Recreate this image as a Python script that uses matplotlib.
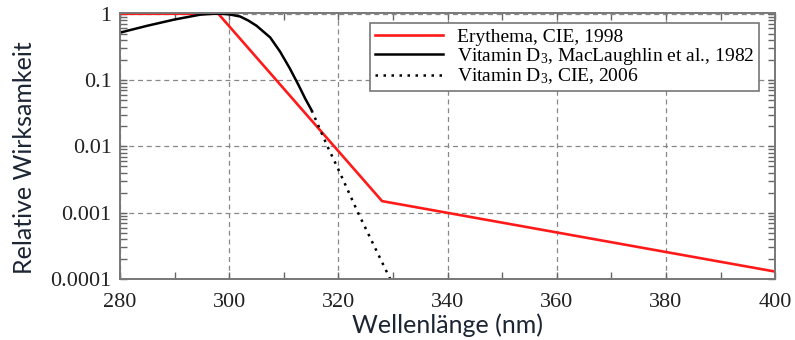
import numpy as np
import matplotlib.pyplot as plt
from matplotlib.ticker import FixedLocator, LogLocator, NullFormatter

# action spectra (wavelength in nm, relative effectiveness)
ery_wl = [280, 298, 328, 400]
ery_val = [1.0, 1.0, 0.0015, 0.00013]

vitd_wl = [280, 285, 290, 294.7, 297, 298.3, 300, 302, 303.5, 305, 307.5, 309.3, 311.1, 312.7, 313.9, 315.1]
vitd_val = [0.52, 0.66, 0.82, 0.97, 1.0, 1.0, 0.98, 0.91, 0.79, 0.66, 0.44, 0.27, 0.15, 0.084, 0.053, 0.035]

cie06_wl = [315.1, 318, 320, 323.6, 329.5]
cie06_val = [0.035, 0.01, 0.0045, 0.001, 0.0001]

labels = ['Erythema, CIE, 1998',
          'Vitamin D$_3$, MacLaughlin et al., 1982',
          'Vitamin D$_3$, CIE, 2006']

plt.rcParams['mathtext.fontset'] = 'custom'
plt.rcParams['mathtext.rm'] = 'Liberation Serif'
plt.rcParams['mathtext.it'] = 'Liberation Serif'

fig = plt.figure(figsize=(7.95, 3.4), dpi=100)
ax = fig.add_axes([0.151, 0.179, 0.824, 0.783])

ax.plot(ery_wl, ery_val, color='#ff1a1a', lw=1.9, label=labels[0])
ax.plot(vitd_wl, vitd_val, color='black', lw=1.8, label=labels[1])
ax.plot(cie06_wl, cie06_val, color='black', lw=1.8, ls=(0, (1, 2.2)), label=labels[2])

ax.set_yscale('log')
ax.set_xlim(280, 400)
ax.set_ylim(1e-4, 1.03)

ax.xaxis.set_major_locator(FixedLocator([280, 300, 320, 340, 360, 380, 400]))
ax.xaxis.set_minor_locator(FixedLocator(np.arange(290, 400, 20)))
ax.yaxis.set_major_locator(FixedLocator([1e-4, 1e-3, 1e-2, 1e-1, 1]))
ax.yaxis.set_minor_locator(LogLocator(base=10, subs=np.arange(2, 10)))
ax.yaxis.set_minor_formatter(NullFormatter())
ax.set_yticklabels(['0.0001', '0.001', '0.01', '0.1', '1'])

ax.grid(True, which='major', color='#888888', ls=(0, (4, 3)), lw=0.9)
ax.tick_params(which='both', direction='in', top=True, right=True,
               color='#666666', width=1.0)
ax.tick_params(which='major', length=5, labelsize=16)
ax.tick_params(axis='x', which='major', pad=10)
ax.tick_params(axis='y', which='major', pad=6)
ax.tick_params(which='minor', length=5)
for lab in ax.get_xticklabels() + ax.get_yticklabels():
    lab.set_fontfamily('Liberation Serif')
    lab.set_color('#222222')
for sp in ax.spines.values():
    sp.set_color('#777777')
    sp.set_linewidth(1.4)

ax.set_xlabel('Wellenlänge (nm)', fontsize=18, fontfamily='Lato',
              color='#1c2533', labelpad=1)
ax.set_ylabel('Relative Wirksamkeit', fontsize=18, fontfamily='Lato',
              color='#1c2533')
ax.yaxis.set_label_coords(-0.128, 0.455)

leg = ax.legend(loc='upper right', bbox_to_anchor=(0.9756, 0.962),
                prop={'family': 'Liberation Serif', 'size': 14},
                fancybox=False, framealpha=1, edgecolor='#777777',
                handlelength=3.5, labelspacing=0.0, borderpad=0.25,
                handletextpad=0.7, borderaxespad=0)
leg.get_frame().set_linewidth(1.2)

fig.savefig('out.png', dpi=100)
